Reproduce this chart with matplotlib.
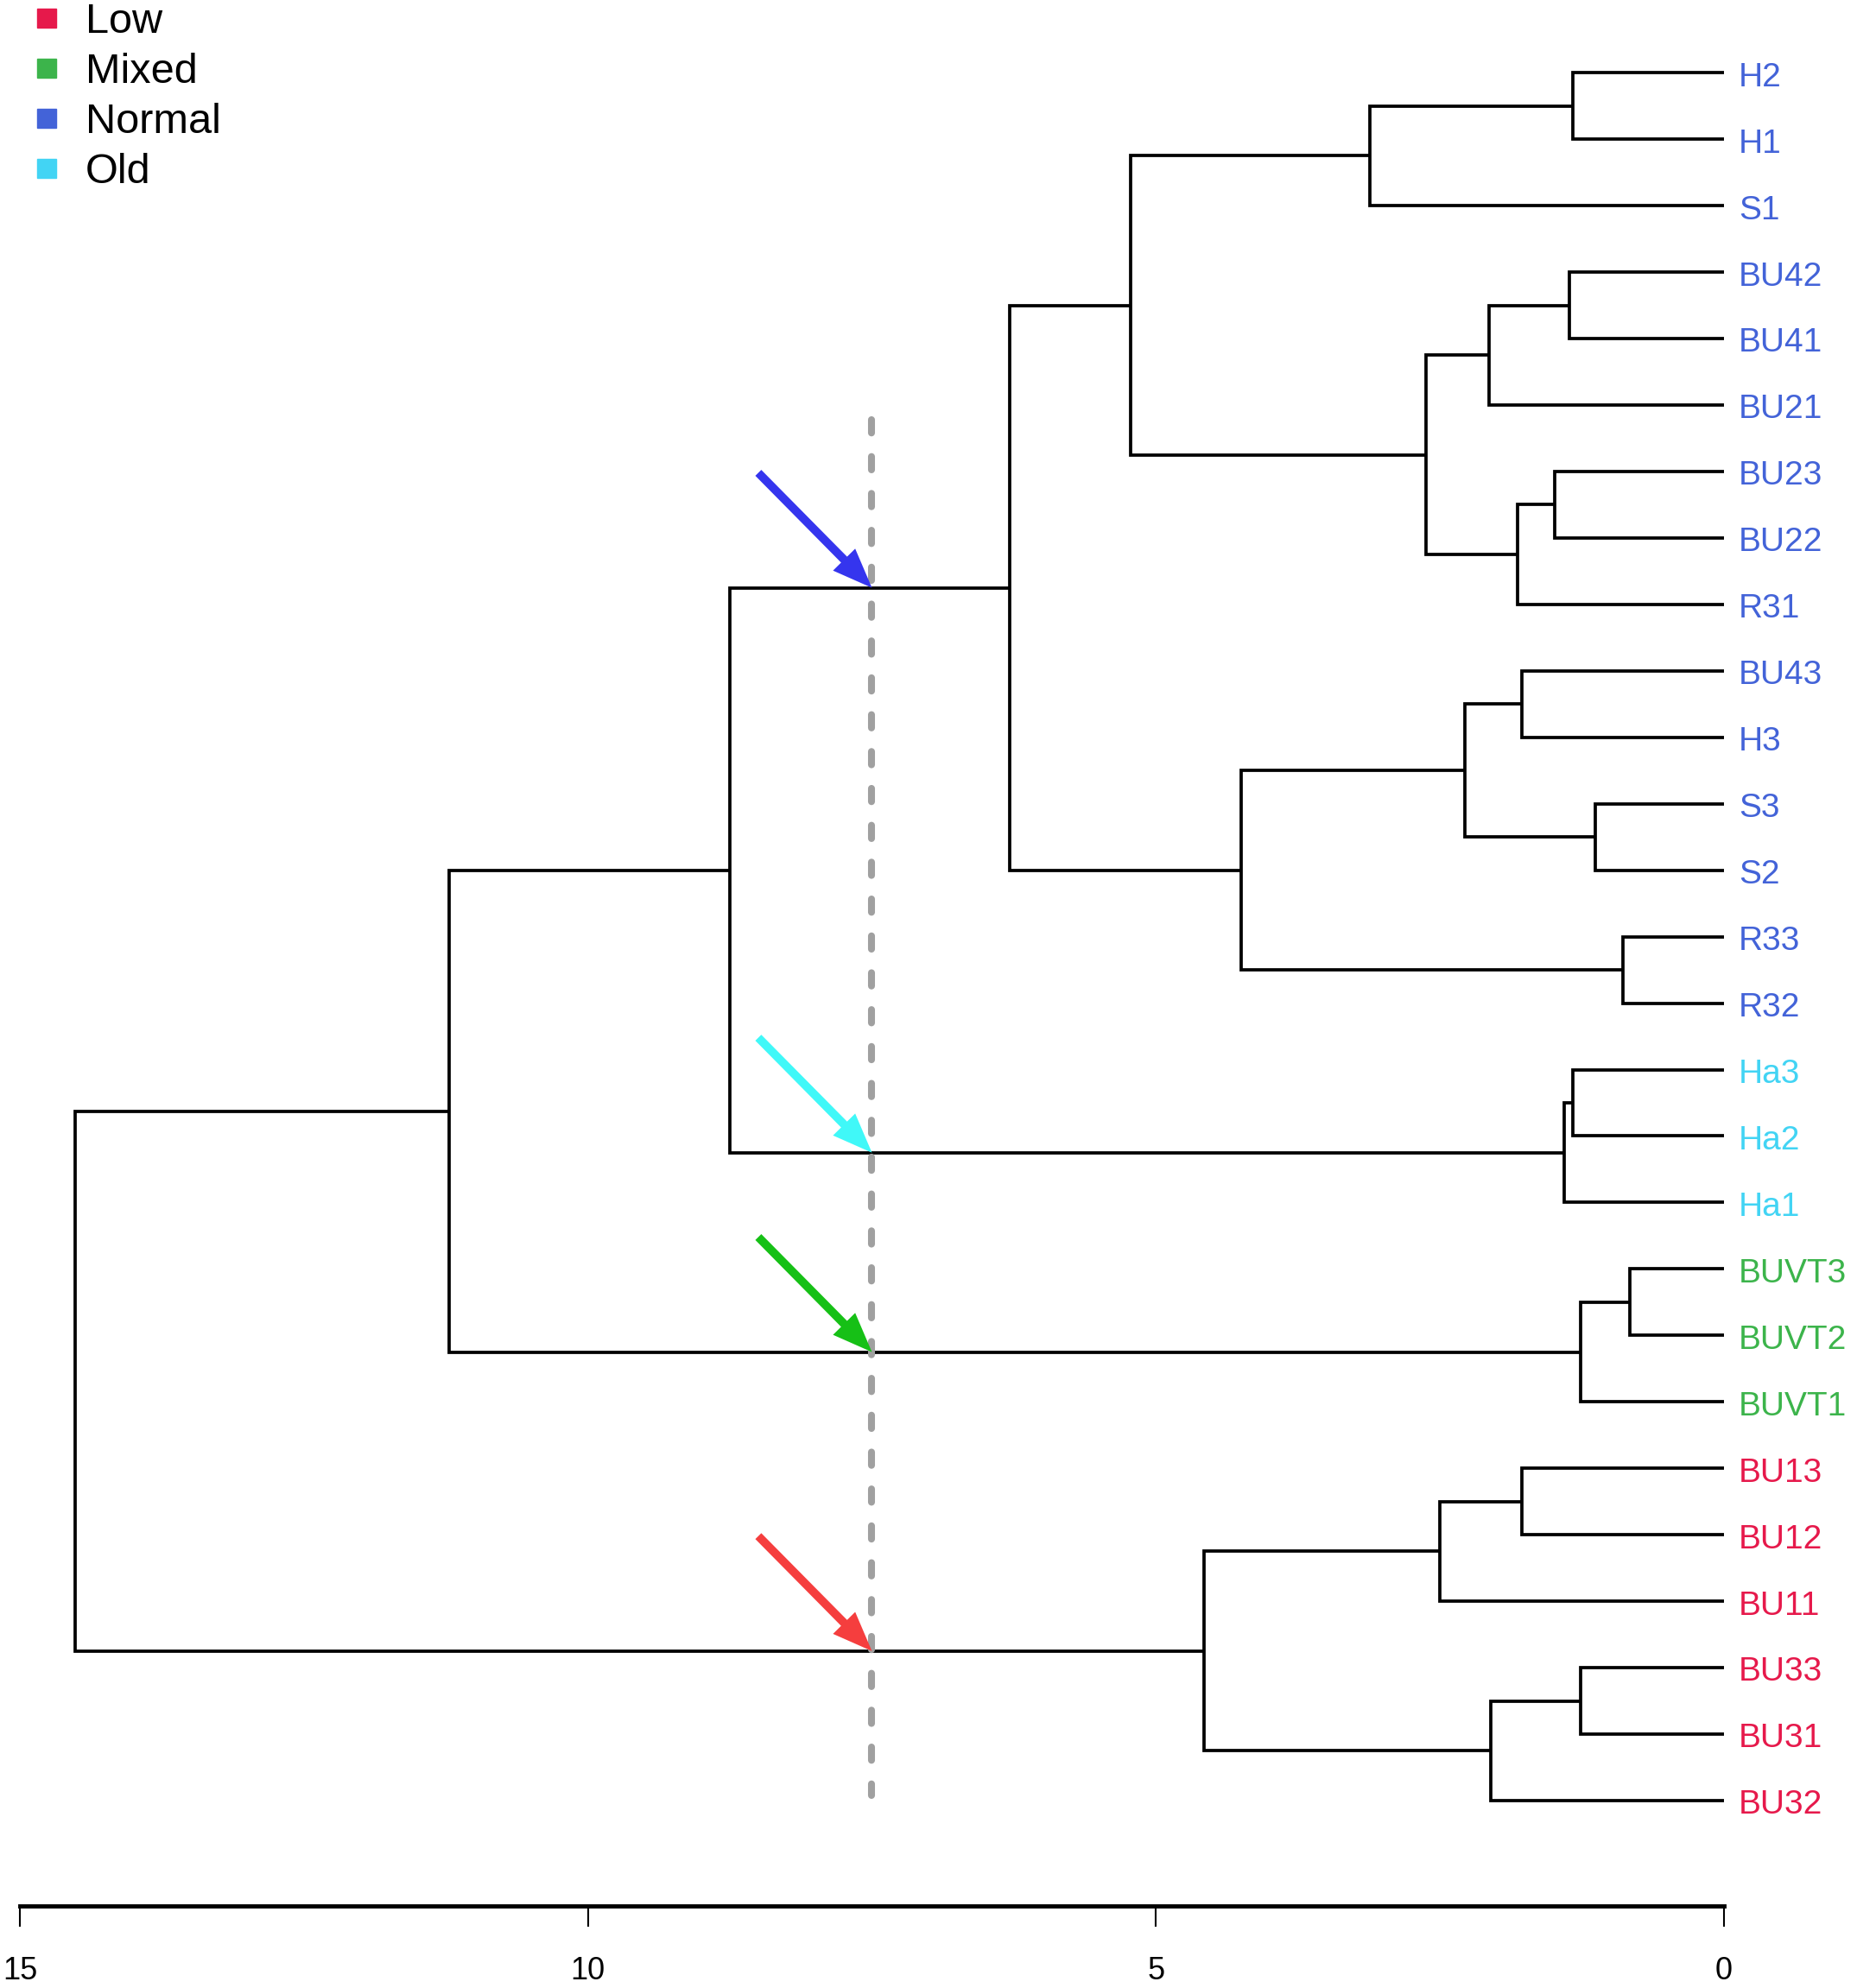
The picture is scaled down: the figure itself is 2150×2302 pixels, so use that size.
import matplotlib.pyplot as plt
from matplotlib.lines import Line2D

plt.rcParams['font.family'] = ['Liberation Sans', 'DejaVu Sans']

# leaves, top to bottom
leaf_labels = ["H2", "H1", "S1", "BU42", "BU41", "BU21", "BU23", "BU22", "R31",
               "BU43", "H3", "S3", "S2", "R33", "R32", "Ha3", "Ha2", "Ha1",
               "BUVT3", "BUVT2", "BUVT1", "BU13", "BU12", "BU11", "BU33", "BU31", "BU32"]
leaf_groups = ["Normal"] * 15 + ["Old"] * 3 + ["Mixed"] * 3 + ["Low"] * 6

# merges: ids < 27 are leaves, id 27 + k is merge k
merge_left = [0, 27, 3, 29, 6, 31, 30, 28, 9, 11, 35, 13, 37, 34,
              15, 41, 40, 18, 44, 43, 21, 47, 24, 49, 48, 46]
merge_right = [1, 2, 4, 5, 7, 8, 32, 33, 10, 12, 36, 14, 38, 39,
               16, 17, 42, 19, 20, 45, 22, 23, 25, 26, 50, 51]
merge_height = [1.33, 3.12, 1.36, 2.07, 1.49, 1.82, 2.62, 5.22, 1.78, 1.13, 2.28, 0.89, 4.25, 6.29,
                1.33, 1.41, 8.75, 0.83, 1.26, 11.22, 1.78, 2.50, 1.26, 2.05, 4.58, 14.51]

group_names = ["Low", "Mixed", "Normal", "Old"]
group_colors = {"Low": "#E6194B", "Mixed": "#3CB44B", "Normal": "#4363D8", "Old": "#42D4F4"}

cut_height = 7.5
cut_nodes = [40, 42, 45, 51]          # Normal, Old, Mixed, Low clusters
arrow_colors = ["#3535EE", "#40F8F8", "#16C016", "#F53E3E"]

n_leaves = len(leaf_labels)

fig = plt.figure(figsize=(21.5, 23.02), dpi=100)
ax = fig.add_axes([0, 0, 1, 1])
ax.set_xlim(15.175, -1.171)
ax.set_ylim(28.82, -1.095)

# node positions (height, y)
pos = {i: (0.0, float(i)) for i in range(n_leaves)}
for k, (a, b, h) in enumerate(zip(merge_left, merge_right, merge_height)):
    ha, ya = pos[a]
    hb, yb = pos[b]
    ax.plot([ha, h, h, hb], [ya, ya, yb, yb], color="black", lw=2.7,
            solid_capstyle="butt", solid_joinstyle="miter")
    pos[n_leaves + k] = (h, (ya + yb) / 2)

for i, lab in enumerate(leaf_labels):
    ax.text(-0.13, i + 0.07, lab, color=group_colors[leaf_groups[i]], fontsize=28,
            va="center", ha="left")

# cut line
ax.plot([cut_height, cut_height], [5.22, 25.92], color="#A0A0A0", lw=5.8,
        dashes=(1.9, 3.4), dash_capstyle="round", zorder=3)

for node, c in zip(cut_nodes, arrow_colors):
    y = pos[node][1]
    ax.annotate("", xy=(cut_height, y), xytext=(cut_height + 1.0, y - 1.73),
                arrowprops=dict(arrowstyle="simple,head_length=3.3,head_width=2.6,tail_width=0.7",
                                color=c, lw=0, shrinkA=0, shrinkB=0), zorder=4)

# axis at bottom
for s in ["top", "left", "right"]:
    ax.spines[s].set_visible(False)
ax.spines["bottom"].set_position(("data", 27.58))
ax.spines["bottom"].set_bounds(0, 15)
ax.spines["bottom"].set_linewidth(3.5)
ax.set_xticks([15, 10, 5, 0])
ax.set_xticklabels(["15", "10", "5", "0"])
ax.tick_params(axis="x", direction="out", length=17, width=1.5, labelsize=26, pad=25)
ax.set_yticks([])

handles = [Line2D([], [], marker="s", ls="", color=group_colors[g], markersize=16) for g in group_names]
ax.legend(handles, group_names, loc="upper left", frameon=False, fontsize=35,
          bbox_to_anchor=(30 / 2150, 1 - 3 / 2302), bbox_transform=fig.transFigure,
          borderpad=0, borderaxespad=0, labelspacing=0.27, handlelength=1.0, handletextpad=0.42)

fig.savefig("out.png", dpi=100)
